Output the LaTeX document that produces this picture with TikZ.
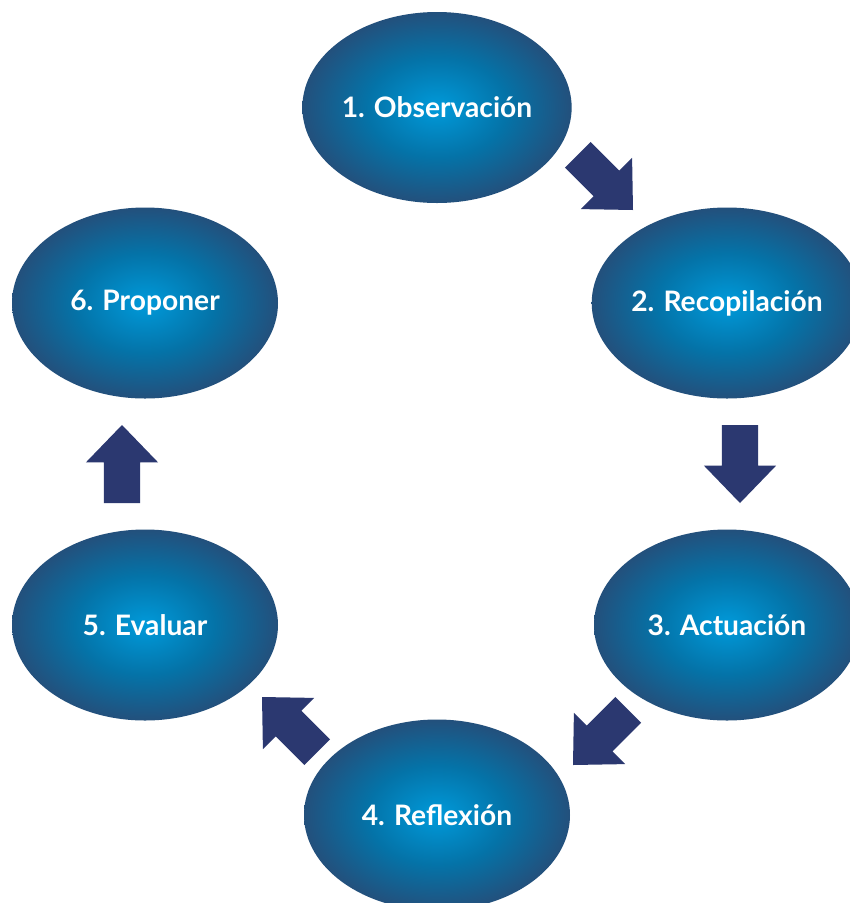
\documentclass[tikz,border=0pt]{standalone}
\usepackage{fontspec}
\setmainfont{Lato}
\usetikzlibrary{shapes.geometric,shapes.arrows}
\definecolor{cA}{HTML}{009ADA}
\definecolor{cB}{HTML}{0473A8}
\definecolor{cC}{HTML}{23507C}
\definecolor{arrowc}{HTML}{2B3870}
\pgfdeclareradialshading{ellshade}{\pgfpoint{0bp}{0bp}}{color(0bp)=(cA); color(13bp)=(cB); color(25bp)=(cC); color(50bp)=(cC)}
\tikzset{
  stage/.style={ellipse, shading=ellshade, minimum width=266pt, minimum height=191pt, inner sep=0pt,
    text=white, font=\bfseries\fontsize{28.2}{31}\selectfont},
  blockarrow/.style={single arrow, fill=arrowc, draw=none, minimum height=78pt, anchor=tip,
    single arrow head extend=18pt, single arrow tip angle=88, inner sep=0pt, outer sep=0pt}
}
\newcommand{\shaft}{\rule{0pt}{36pt}}
\begin{document}
\begin{tikzpicture}[x=1pt,y=-1pt]
\clip (0,0) rectangle (850,903);
\fill[white] (0,0) rectangle (850,903);
\node[stage] (s1) at (437,107.5) {1. Observación};
\node[stage] (s2) at (727,303) {2. Recopilación};
\node[stage] (s3) at (727,625) {3. Actuación};
\node[stage] (s4) at (437,815) {4. Reflexión};
\node[stage] (s5) at (145,625) {5. Evaluar};
\node[stage] (s6) at (145,303) {6. Proponer};
\node[blockarrow, rotate=-45] (a1) at (633,210) {\shaft};
\node[blockarrow, rotate=-90] (a2) at (740,503) {\shaft};
\node[blockarrow, rotate=-135] (a3) at (573,765) {\shaft};
\node[blockarrow, rotate=135] (a4) at (262,697) {\shaft};
\node[blockarrow, rotate=90] (a5) at (122,425) {\shaft};
\end{tikzpicture}
\end{document}
